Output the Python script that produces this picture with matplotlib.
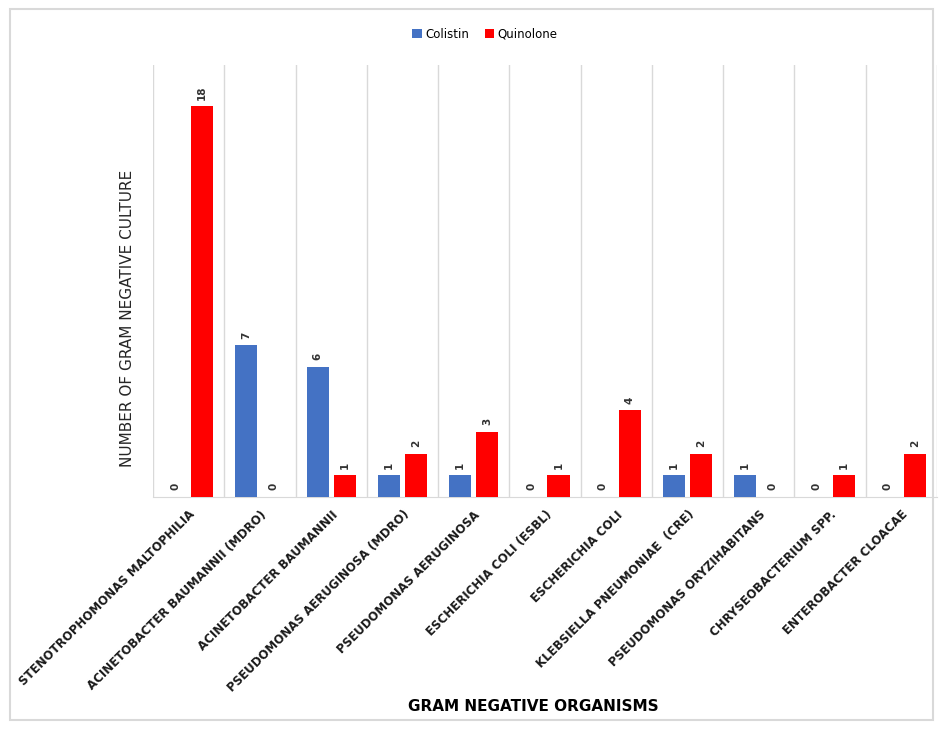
import matplotlib
matplotlib.use("Agg")
import matplotlib.pyplot as plt
import numpy as np
from matplotlib.patches import Rectangle

categories = ["STENOTROPHOMONAS MALTOPHILIA", "ACINETOBACTER BAUMANNII (MDRO)",
              "ACINETOBACTER BAUMANNII", "PSEUDOMONAS AERUGINOSA (MDRO)",
              "PSEUDOMONAS AERUGINOSA", "ESCHERICHIA COLI (ESBL)", "ESCHERICHIA COLI",
              "KLEBSIELLA PNEUMONIAE  (CRE)", "PSEUDOMONAS ORYZIHABITANS",
              "CHRYSEOBACTERIUM SPP.", "ENTEROBACTER CLOACAE"]
colistin = [0, 7, 6, 1, 1, 0, 0, 1, 1, 0, 0]
quinolone = [18, 0, 1, 2, 3, 1, 4, 2, 0, 1, 2]
series_names = ["Colistin", "Quinolone"]
colors = ["#4472C4", "#FF0000"]

W, H = 943, 729
fig = plt.figure(figsize=(W/100, H/100), dpi=100)
fig.add_artist(Rectangle((10/W, 9/H), (W-20)/W, (H-18)/H, transform=fig.transFigure,
                         fill=False, edgecolor="#d9d9d9", lw=1.5))

ax = fig.add_axes([153/W, 1-497/H, (937-153)/W, (497-65)/H])
x = np.arange(len(categories))
bw = 0.31
off = 0.19
b1 = ax.bar(x - off, colistin, bw, color=colors[0], label=series_names[0], zorder=3)
b2 = ax.bar(x + off, quinolone, bw, color=colors[1], label=series_names[1], zorder=3)
for bars, vals in [(b1, colistin), (b2, quinolone)]:
    for b, v in zip(bars, vals):
        ax.text(b.get_x() + b.get_width()/2, v + 0.3, str(v), rotation=90,
                ha="center", va="bottom", fontsize=7.5, fontweight="bold",
                color="#333333")

ax.set_xlim(-0.5, len(categories) - 0.5)
ax.set_ylim(0, 19.9)
ax.set_yticks([])
ax.set_xticks(x)
ax.set_xticklabels(categories, rotation=45, ha="right", rotation_mode="anchor",
                   fontsize=8.5, fontweight="bold", color="#1a1a1a")
ax.tick_params(axis="x", length=0, pad=8)
for xv in np.arange(-0.5, len(categories), 1.0):
    ax.axvline(xv, color="#d9d9d9", lw=1, zorder=1)
for s in ["top", "right", "left"]:
    ax.spines[s].set_visible(False)
ax.spines["bottom"].set_color("#d9d9d9")

ax.set_xlabel("GRAM NEGATIVE ORGANISMS", fontsize=11, fontweight="bold", labelpad=0)
ax.xaxis.set_label_coords((533-153)/(937-153), -(699-497)/(497-65))
fig.text(127/W, 1-318/H, "NUMBER OF GRAM NEGATIVE CULTURE", rotation=90,
         ha="center", va="center", fontsize=11, color="#262626")

fig.legend(loc="center", bbox_to_anchor=(485/W, 1-34/H), ncol=2, frameon=False,
           fontsize=8.5, handlelength=0.8, handleheight=0.8, columnspacing=1.3,
           handletextpad=0.3)

fig.savefig("out.png", dpi=100)
